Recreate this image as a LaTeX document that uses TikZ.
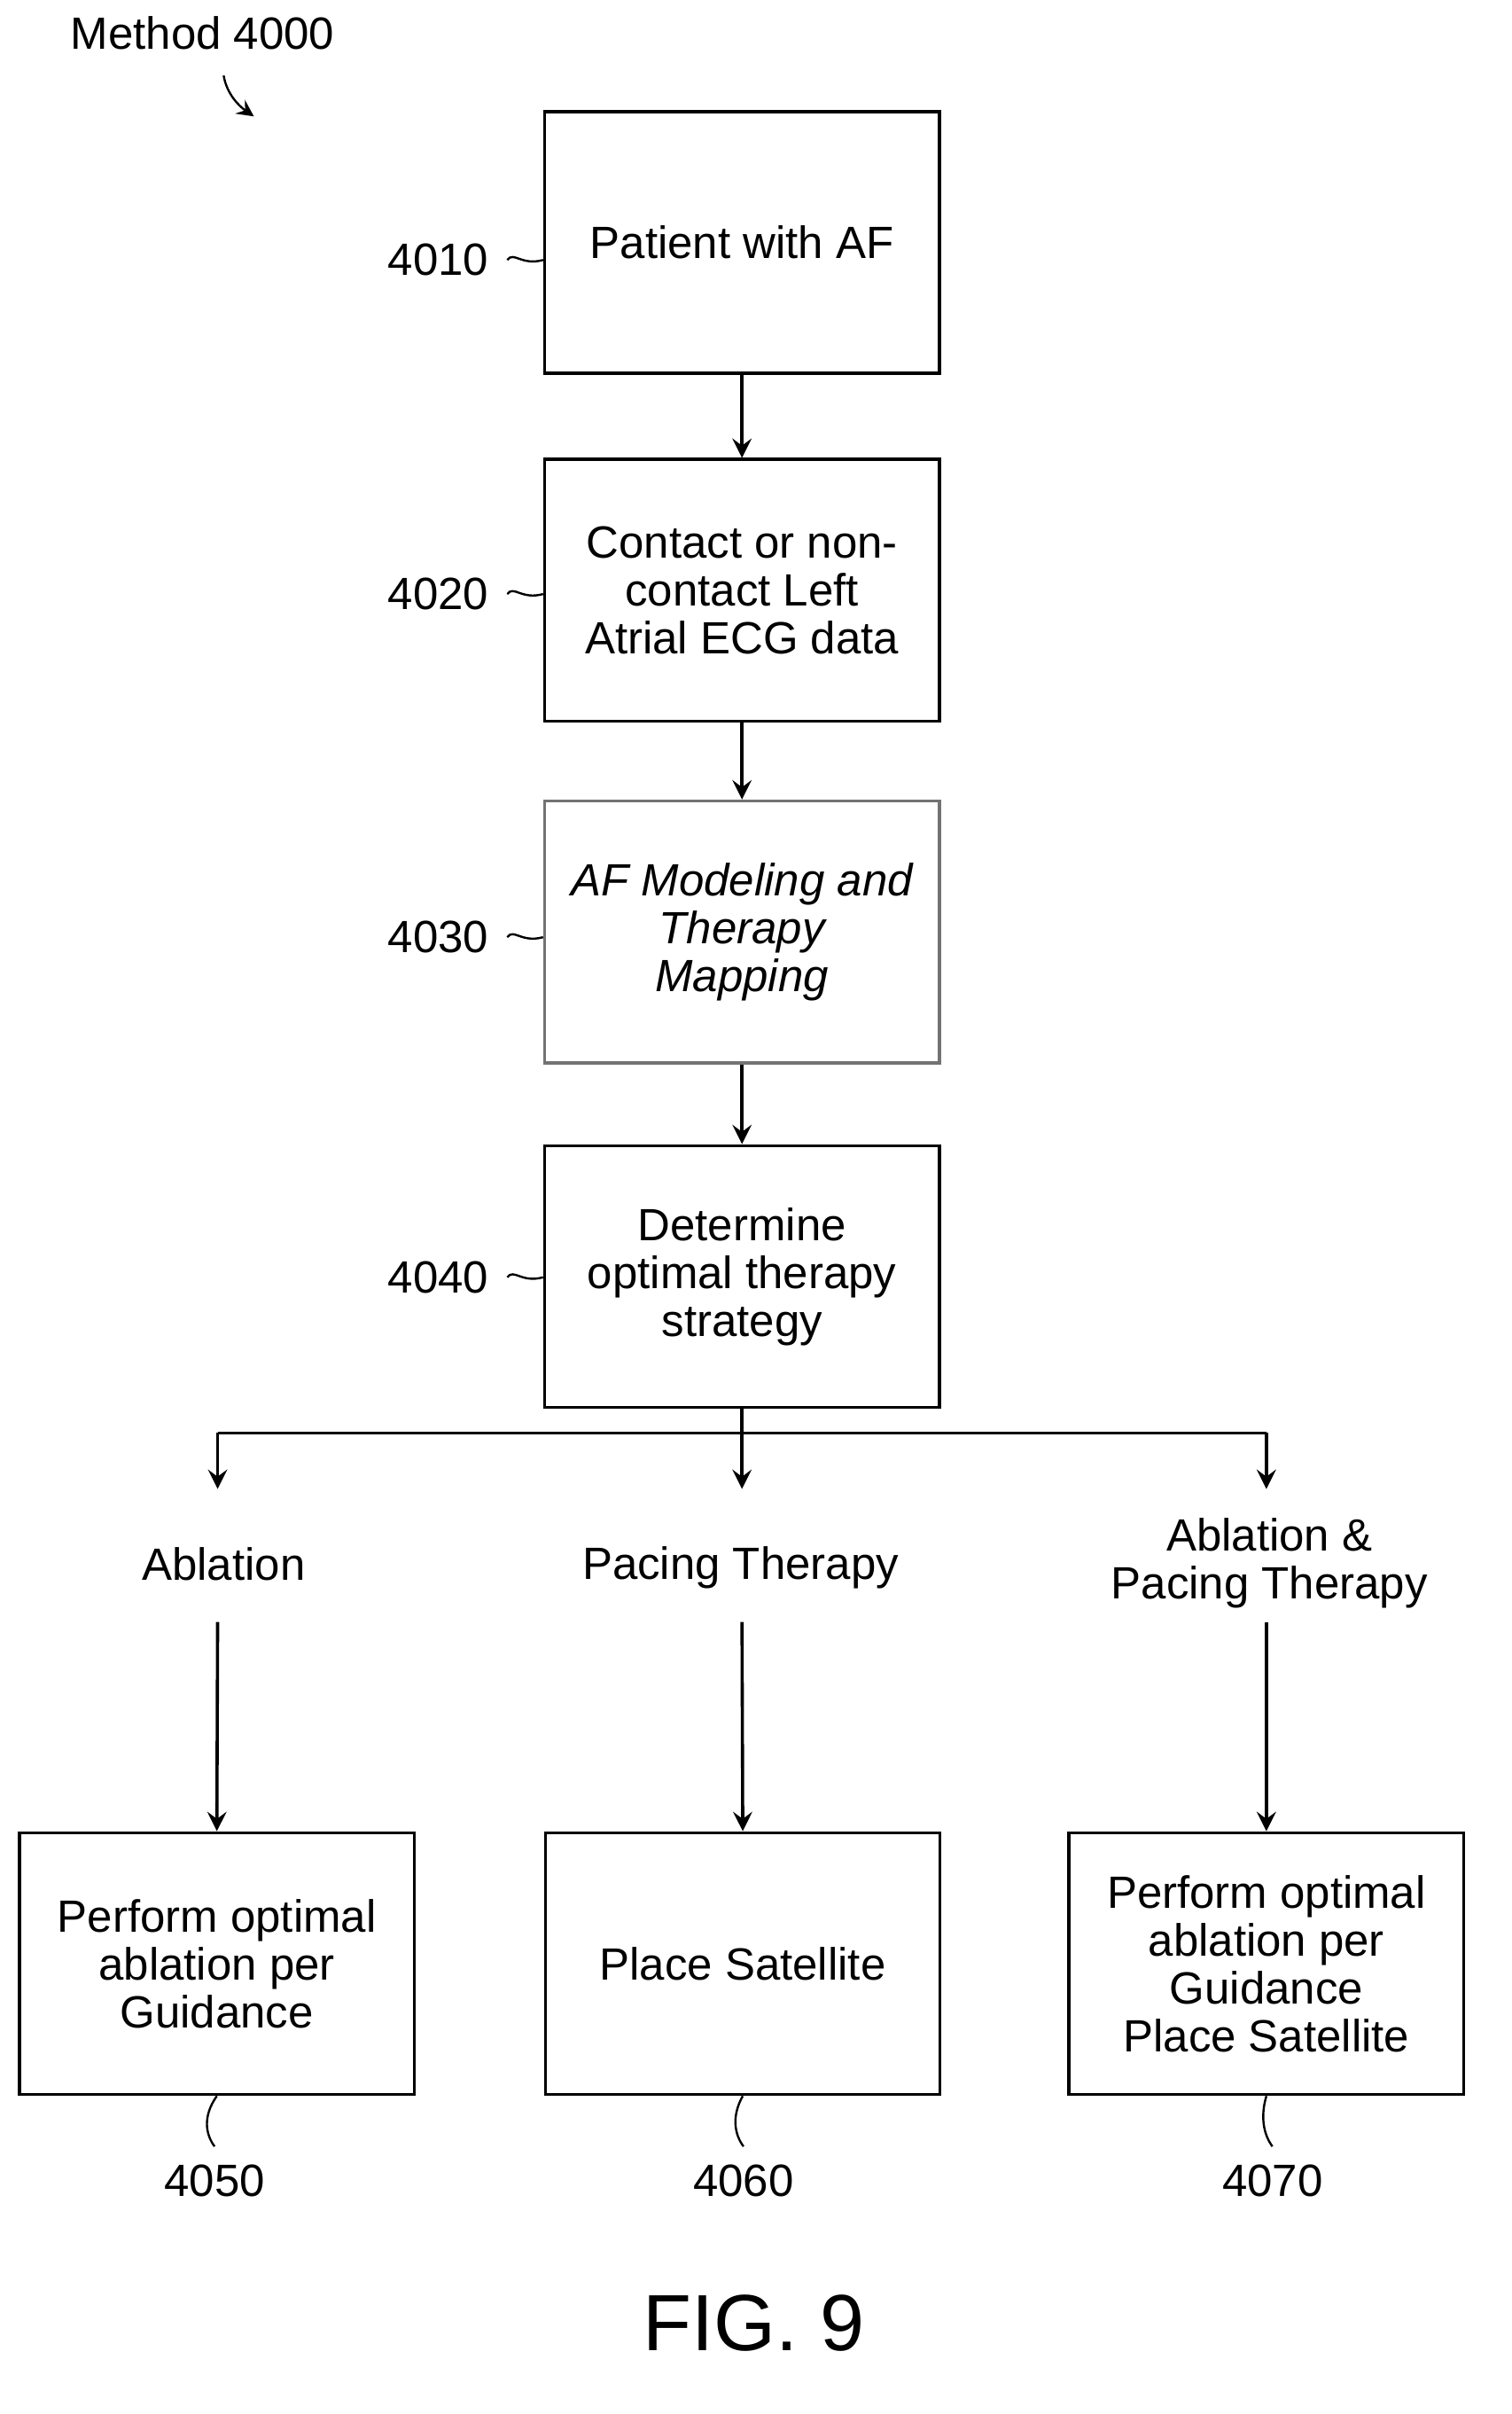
\documentclass[tikz,border=0pt]{standalone}
\usepackage{fontspec}
\setmainfont{Liberation Sans}
\begin{document}
\begin{tikzpicture}[x=0.01cm,y=-0.01cm,
 box/.style={draw,line width=0.6pt,minimum width=2.61cm,minimum height=1.73cm,align=center,inner sep=1pt,font=\fontsize{8.5}{9}\selectfont},
 lbl/.style={align=center,font=\fontsize{8.5}{9}\selectfont},
 arr/.style={->,>=stealth,line width=0.6pt},
 lead/.style={line width=0.4pt}]
\useasboundingbox (0,0) rectangle (1000,1597);
\node[box] (b1) at (491,160.5) {Patient with AF};
\node[box] (b2) at (491,390.5) {Contact or non-\\contact Left\\Atrial ECG data};
\node[box,draw=black!55] (b3) at (491,616.5) {\itshape AF Modeling and\\\itshape Therapy\\\itshape Mapping};
\node[box] (b4) at (491,844.5) {Determine\\optimal therapy\\strategy};
\node[box] (b5) at (143.5,1299) {Perform optimal\\ablation per\\Guidance};
\node[box] (b6) at (491.5,1299) {Place Satellite};
\node[box] (b7) at (838,1299) {Perform optimal\\ablation per\\Guidance\\Place Satellite};
\draw[arr] (b1) -- (b2);
\draw[arr] (b2) -- (b3);
\draw[arr] (b3) -- (b4);
\coordinate (j) at (491,948);
\coordinate (jl) at (144,948);
\coordinate (jr) at (838,948);
\coordinate (el) at (144,985);
\coordinate (em) at (491,985);
\coordinate (er) at (838,985);
\draw[line width=0.6pt] (b4.south) -- (j) (jl) -- (jr);
\draw[arr] (jl) -- (el);
\draw[arr] (j) -- (em);
\draw[arr] (jr) -- (er);
\node[lbl] (l1) at (148,1035) {Ablation};
\node[lbl] (l2) at (490,1037) {Pacing Therapy};
\node[lbl] (l3) at (840,1034) {Ablation \&\\Pacing Therapy};
\coordinate (s1) at (144,1073);
\coordinate (s2) at (491,1073);
\coordinate (s3) at (838,1073);
\draw[arr] (s1) -- (b5.north);
\draw[arr] (s2) -- (b6.north);
\draw[arr] (s3) -- (b7.north);
% left references
\foreach \n/\y/\b in {4010/172/b1,4020/393/b2,4030/620/b3,4040/845/b4}{
 \node[lbl] (r\n) at (290,\y) {\n};
 \draw[lead] (r\n.east) .. controls (340,\y-6) and (345,\y+4) .. (\b.west |- r\n.east);
}
% bottom references
\foreach \n/\x/\b in {4050/142/b5,4060/492/b6,4070/842/b7}{
 \node[lbl] (r\n) at (\x,1443) {\n};
 \draw[lead] (\b.south) .. controls (\x-8,1400) and (\x-6,1412) .. (r\n.north);
}
\node[lbl] (m) at (134,22) {Method 4000};
\coordinate (mt) at (168,77);
\draw[arr,line width=0.4pt] (148,50) .. controls (150,62) and (158,70) .. (mt);
\node[font=\fontsize{15}{18}\selectfont] (fig) at (499,1537) {FIG. 9};
\end{tikzpicture}
\end{document}
